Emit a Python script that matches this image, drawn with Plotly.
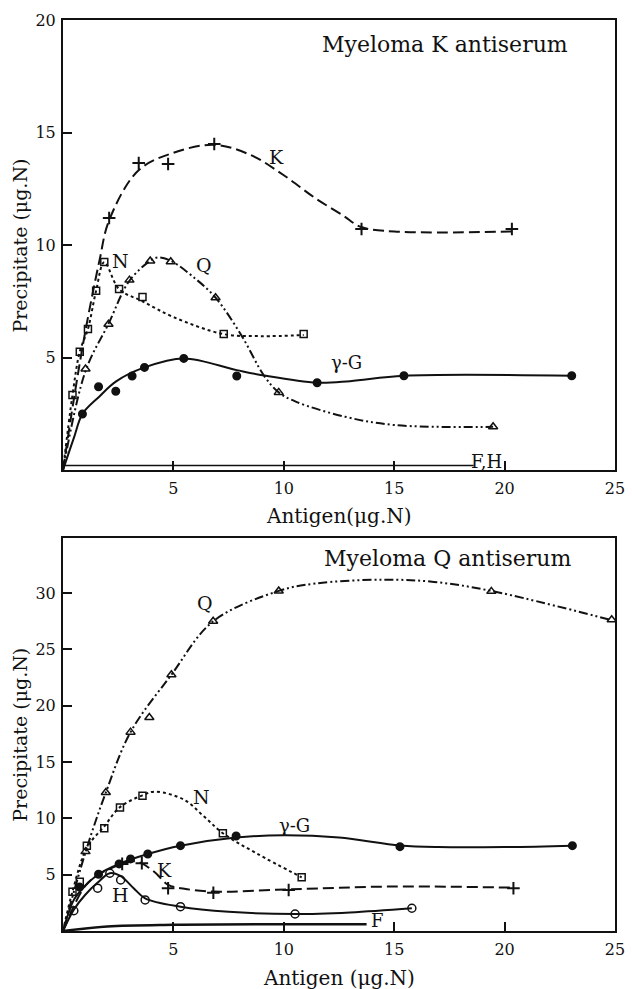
import plotly.graph_objects as go

# ---------------- Top panel: Myeloma K antiserum ----------------
# measured points
tK_x = [2.09, 3.43, 4.76, 6.85, 13.52, 20.33]
tK_y = [11.2, 13.64, 13.6, 14.49, 10.71, 10.71]
tN_x = [0.43, 0.76, 1.13, 1.5, 1.87, 2.54, 3.6, 7.28, 10.9]
tN_y = [3.33, 5.26, 6.27, 7.97, 9.24, 8.04, 7.69, 6.04, 6.04]
tQ_x = [1.02, 2.06, 3.01, 3.95, 4.88, 6.91, 9.77, 19.48]
tQ_y = [4.49, 6.48, 8.44, 9.29, 9.26, 7.66, 3.45, 1.92]
tG_x = [0.88, 1.61, 2.39, 3.13, 3.69, 5.47, 7.87, 11.51, 15.44, 23.04]
tG_y = [2.49, 3.7, 3.5, 4.18, 4.56, 4.96, 4.18, 3.88, 4.19, 4.19]
# drawn (fitted) curves
tKc_x = [0, 0.5, 1.0, 1.65, 2.09, 3.4, 5.0, 6.85, 8.5, 10.0, 11.4, 12.7, 13.5, 15.0, 20.33]
tKc_y = [0, 3.2, 6.1, 9.3, 11.1, 13.3, 14.1, 14.45, 14.0, 13.1, 12.1, 11.3, 10.8, 10.6, 10.6]
tNc_x = [0, 0.43, 0.76, 1.13, 1.5, 1.87, 2.54, 3.6, 5.0, 7.28, 9.0, 10.9]
tNc_y = [0, 3.33, 5.26, 6.27, 7.97, 9.24, 8.04, 7.5, 6.8, 6.04, 5.95, 6.0]
tQc_x = [0, 1.02, 2.06, 3.0, 3.95, 4.3, 4.88, 6.0, 6.91, 8.1, 9.1, 9.77, 10.54, 12.77, 15.0, 19.48]
tQc_y = [0, 4.4, 6.5, 8.4, 9.3, 9.45, 9.3, 8.5, 7.66, 5.95, 4.2, 3.45, 3.04, 2.37, 2.0, 1.92]
tGc_x = [0, 0.5, 0.88, 1.64, 2.39, 3.69, 5.47, 7.87, 9.1, 11.5, 13.0, 15.44, 23.04]
tGc_y = [0, 1.45, 2.49, 3.26, 3.93, 4.56, 4.96, 4.44, 4.2, 3.88, 3.95, 4.19, 4.19]
tFH_x = [0, 18.6]
tFH_y = [0.2, 0.2]

# ---------------- Bottom panel: Myeloma Q antiserum ----------------
bQ_x = [1.02, 1.94, 3.06, 3.91, 4.91, 6.8, 9.77, 19.4, 24.85]
bQ_y = [7.05, 12.3, 17.66, 18.96, 22.76, 27.5, 30.2, 30.16, 27.64]
bN_x = [0.43, 0.76, 1.08, 1.87, 2.58, 3.6, 7.24, 10.81]
bN_y = [3.49, 4.38, 7.58, 9.13, 10.96, 12.0, 8.68, 4.77]
bG_x = [0.75, 1.61, 2.54, 3.06, 3.84, 5.32, 7.84, 15.26, 23.07]
bG_y = [3.9, 5.04, 5.96, 6.4, 6.84, 7.58, 8.44, 7.49, 7.58]
bK_x = [2.68, 3.57, 4.76, 6.81, 10.22, 20.4]
bK_y = [5.96, 6.02, 3.8, 3.4, 3.64, 3.8]
bH_x = [0.49, 1.57, 2.12, 2.61, 3.72, 5.32, 10.51, 15.8]
bH_y = [1.8, 3.8, 5.13, 4.53, 2.76, 2.16, 1.51, 2.02]
bQc_x = [0, 1.02, 1.94, 3.06, 4.91, 6.8, 9.77, 11.4, 14.5, 16.8, 19.4, 24.85]
bQc_y = [0, 7.0, 12.3, 17.66, 22.76, 27.5, 30.2, 30.85, 31.2, 31.0, 30.2, 27.6]
bNc_x = [0, 0.43, 1.08, 1.87, 2.58, 3.6, 4.17, 5.5, 6.39, 7.24, 8.76, 10.81]
bNc_y = [0, 3.5, 7.4, 9.3, 11.0, 12.05, 12.38, 11.64, 10.16, 8.68, 6.9, 4.77]
bGc_x = [0, 0.5, 1.0, 1.61, 2.54, 3.84, 5.32, 7.84, 10.0, 12.5, 15.26, 17.0, 20.0, 23.07]
bGc_y = [0, 2.8, 4.0, 5.04, 5.96, 6.84, 7.58, 8.3, 8.5, 8.3, 7.6, 7.45, 7.45, 7.58]
bKc_x = [0, 1.0, 1.6, 2.68, 3.2, 3.57, 4.17, 4.76, 5.5, 6.81, 10.22, 15.0, 20.4]
bKc_y = [0, 4.0, 5.0, 5.96, 6.2, 6.0, 5.2, 4.1, 3.75, 3.5, 3.7, 3.95, 3.85]
bHc_x = [0, 0.49, 1.0, 1.57, 2.12, 2.6, 3.2, 3.72, 5.32, 7.5, 10.51, 13.0, 15.8]
bHc_y = [0, 1.9, 3.2, 4.3, 5.13, 4.9, 3.8, 2.9, 2.16, 1.7, 1.5, 1.65, 2.02]
bF_x = [0, 2.0, 5.0, 13.75]
bF_y = [0, 0.4, 0.55, 0.6]

x_ticks = [5, 10, 15, 20, 25]
top_y_ticks = [5, 10, 15, 20]
bot_y_ticks = [5, 10, 15, 20, 25, 30]

FONT = "DejaVu Serif"
BLACK = "#111111"

DASH_K = "11px,5px"
DASH_N = "3px,3px"
DASH_Q = "9px,3px,2px,3px,2px,3px"

fig = go.Figure()

def curve(x, y, dash, xa, ya, width=2):
    fig.add_trace(go.Scatter(x=x, y=y, mode="lines", xaxis=xa, yaxis=ya,
                             line=dict(color=BLACK, width=width, dash=dash,
                                       shape="spline", smoothing=1.0),
                             showlegend=False, hoverinfo="skip"))

def pts(x, y, symbol, size, xa, ya, lw=1.5):
    fig.add_trace(go.Scatter(x=x, y=y, mode="markers", xaxis=xa, yaxis=ya,
                             marker=dict(symbol=symbol, size=size, color=BLACK,
                                         line=dict(color=BLACK, width=lw)),
                             showlegend=False, hoverinfo="skip"))

# top
curve(tKc_x, tKc_y, DASH_K, "x", "y")
curve(tNc_x, tNc_y, DASH_N, "x", "y")
curve(tQc_x, tQc_y, DASH_Q, "x", "y")
curve(tGc_x, tGc_y, "solid", "x", "y")
curve(tFH_x, tFH_y, "solid", "x", "y", width=1.6)
pts(tK_x, tK_y, "cross-thin", 9, "x", "y", lw=2)
pts(tN_x, tN_y, "square-open", 7, "x", "y")
pts(tQ_x, tQ_y, "triangle-up-open", 8, "x", "y")
pts(tG_x, tG_y, "circle", 7.5, "x", "y")

# bottom
curve(bQc_x, bQc_y, DASH_Q, "x2", "y2")
curve(bNc_x, bNc_y, DASH_N, "x2", "y2")
curve(bGc_x, bGc_y, "solid", "x2", "y2")
curve(bKc_x, bKc_y, DASH_K, "x2", "y2")
curve(bHc_x, bHc_y, "solid", "x2", "y2")
curve(bF_x, bF_y, "solid", "x2", "y2", width=2.5)
pts(bQ_x, bQ_y, "triangle-up-open", 8, "x2", "y2")
pts(bN_x, bN_y, "square-open", 7, "x2", "y2")
pts(bG_x, bG_y, "circle", 7.5, "x2", "y2")
pts(bK_x, bK_y, "cross-thin", 9, "x2", "y2", lw=2)
pts(bH_x, bH_y, "circle-open", 8, "x2", "y2")

axis_common = dict(showgrid=False, zeroline=False, showline=True, linecolor=BLACK,
                   linewidth=2, mirror=True, ticks="inside", ticklen=9, tickwidth=1.5,
                   tickcolor=BLACK, ticklabeloverflow="allow",
                   tickfont=dict(family=FONT, size=16, color=BLACK))

fig.update_layout(
    width=632, height=989,
    margin=dict(l=63, r=7, t=20, b=58),
    paper_bgcolor="white", plot_bgcolor="white",
    font=dict(family=FONT, color=BLACK),
    xaxis=dict(domain=[0, 1], range=[0, 25], tickvals=x_ticks, anchor="y",
               ticklabelstandoff=3, **axis_common),
    yaxis=dict(domain=[0.506, 1.0], range=[0, 20], tickvals=top_y_ticks, anchor="x",
               ticklabelstandoff=2, **axis_common),
    xaxis2=dict(domain=[0, 1], range=[0, 25], tickvals=x_ticks, anchor="y2",
                ticklabelstandoff=3, **axis_common),
    yaxis2=dict(domain=[0, 0.4314], range=[0, 34.9], tickvals=bot_y_ticks, anchor="x2",
                ticklabelstandoff=2, **axis_common),
)

ann = []
def label(text, x, y, xref, yref, size=19, **kw):
    ann.append(dict(text=text, x=x, y=y, xref=xref, yref=yref, showarrow=False,
                    xanchor="center", yanchor="middle",
                    font=dict(family=FONT, size=size, color=BLACK), **kw))

# top labels
label("Myeloma K antiserum", 17.3, 18.9, "x", "y", size=22)
label("K", 9.65, 13.9, "x", "y")
label("N", 2.62, 9.3, "x", "y")
label("Q", 6.4, 9.1, "x", "y")
label("γ-G", 12.85, 4.8, "x", "y", size=18)
label("F,H", 19.2, 0.4, "x", "y", size=18)
# bottom labels
label("Myeloma Q antiserum", 17.4, 33.1, "x2", "y2", size=22)
label("Q", 6.45, 29.1, "x2", "y2")
label("N", 6.25, 11.9, "x2", "y2")
label("γ-G", 10.5, 9.4, "x2", "y2", size=18)
label("K", 4.6, 5.4, "x2", "y2")
label("H", 2.6, 3.2, "x2", "y2")
label("F", 14.25, 0.95, "x2", "y2", size=18)

# axis titles
label("Antigen(μg.N)", 0.5, 0.456, "paper", "paper", size=20)
label("Antigen (μg.N)", 0.5, -0.052, "paper", "paper", size=20)
label("Precipitate (μg.N)", -0.077, 0.753, "paper", "paper", size=19, textangle=-90)
label("Precipitate (μg.N)", -0.077, 0.216, "paper", "paper", size=19, textangle=-90)

fig.update_layout(annotations=ann)
fig.write_html("out.html")
